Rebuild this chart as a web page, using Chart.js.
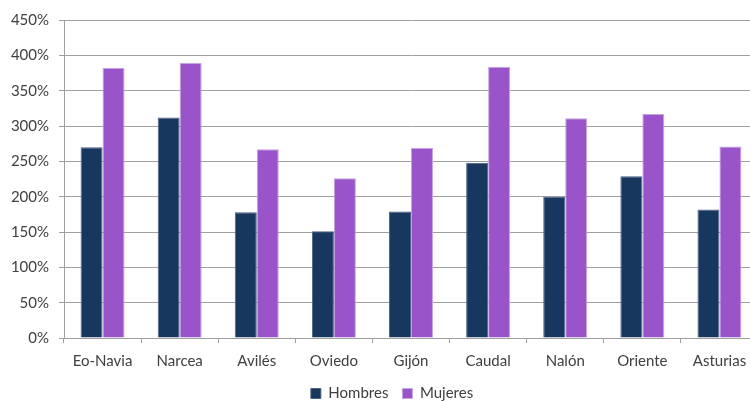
<!DOCTYPE html>
<html>
<head>
<meta charset="utf-8">
<script src="https://cdn.jsdelivr.net/npm/chart.js@4.4.0/dist/chart.umd.min.js"></script>
<style>
  html, body { margin: 0; padding: 0; background: #fff; overflow: hidden; }
  #wrap { width: 784px; height: 411px; }
</style>
</head>
<body>
<div id="wrap"><canvas id="chart" width="784" height="411"></canvas></div>
<script>
const categories = ['Eo-Navia', 'Narcea', 'Avilés', 'Oviedo', 'Gijón', 'Caudal', 'Nalón', 'Oriente', 'Asturias'];
const hombres = [270, 312, 178, 151, 179, 248, 200, 229, 182];
const mujeres = [382, 389, 267, 226, 269, 384, 311, 317, 271];
const yTicks = [0, 50, 100, 150, 200, 250, 300, 350, 400, 450];

const textColor = '#404040';
const gridColor = '#a0a0a0';
const font = { family: 'Lato', size: 15 };

const ctx = document.getElementById('chart').getContext('2d');

// the original chart is a bit wider than the window, legend centred on the full width
const shiftLegend = {
    id: 'shiftLegend',
    afterLayout: function (chart) {
        chart.legend.left += 13;
        chart.legend.right += 13;
    }
};

new Chart(ctx, {
    type: 'bar',
    data: {
        labels: categories,
        datasets: [
            {
                label: 'Hombres',
                data: hombres,
                backgroundColor: '#17375e',
                borderColor: '#4b6283',
                borderWidth: 1,
                barPercentage: 1,
                categoryPercentage: 0.57
            },
            {
                label: 'Mujeres',
                data: mujeres,
                backgroundColor: '#9954c9',
                borderColor: '#c4a2e6',
                borderWidth: 1,
                barPercentage: 1,
                categoryPercentage: 0.57
            }
        ]
    },
    options: {
        responsive: false,
        animation: false,
        layout: { padding: { top: 20, right: 26, left: 0, bottom: 0 } },
        plugins: {
            tooltip: { enabled: false },
            legend: {
                position: 'bottom',
                labels: {
                    boxWidth: 10,
                    boxHeight: 10,
                    padding: 14,
                    color: textColor,
                    font: font
                }
            }
        },
        scales: {
            x: {
                offset: true,
                grid: {
                    offset: true,
                    drawOnChartArea: false,
                    tickLength: 5,
                    color: gridColor
                },
                border: { color: gridColor },
                ticks: { color: textColor, font: font, padding: 9, maxRotation: 0 },
                afterFit: function (scale) { scale.height = 34; }
            },
            y: {
                min: 0,
                max: 450,
                afterBuildTicks: function (scale) {
                    scale.ticks = yTicks.map(v => ({ value: v }));
                },
                grid: { color: gridColor, tickLength: 5 },
                border: { color: gridColor },
                ticks: {
                    color: textColor,
                    font: font,
                    padding: 10,
                    callback: function (v) { return v + '%'; }
                },
                afterFit: function (scale) { scale.width = 64; }
            }
        }
    },
    plugins: [shiftLegend]
});
</script>
</body>
</html>
